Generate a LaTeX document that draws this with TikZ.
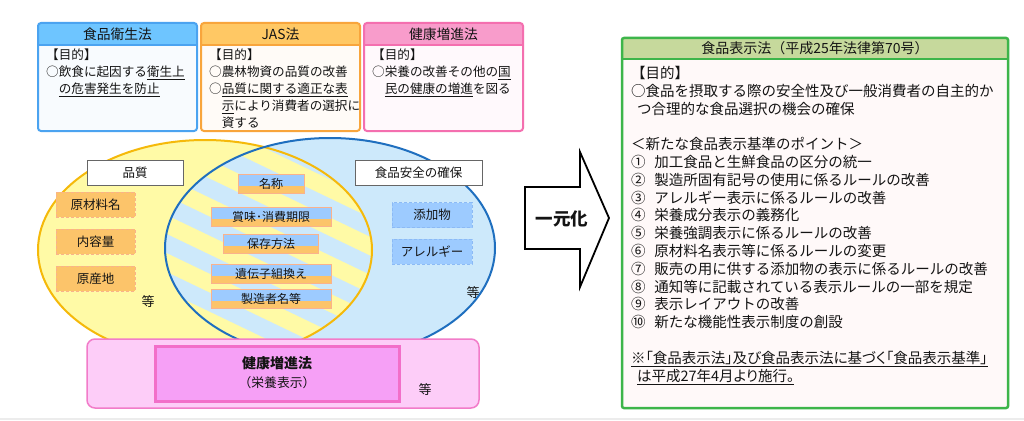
\documentclass[tikz,border=0pt]{standalone}
\usepackage{fontspec}
\setmainfont{Noto Sans CJK JP}
\usepackage{tikz}
\usetikzlibrary{positioning}
\definecolor{eiseiborde}{RGB}{75,163,240}
\definecolor{eiseicab}{RGB}{110,197,255}
\definecolor{jasborde}{RGB}{248,165,60}
\definecolor{jascab}{RGB}{255,200,100}
\definecolor{kenkoborde}{RGB}{244,111,175}
\definecolor{kenkocab}{RGB}{248,156,203}
\definecolor{amarillo}{RGB}{255,250,166}
\definecolor{amarilloborde}{RGB}{245,185,10}
\definecolor{celeste}{RGB}{205,233,251}
\definecolor{azulborde}{RGB}{31,111,191}
\definecolor{naranja}{RGB}{252,196,106}
\definecolor{naranjaborde}{RGB}{250,178,140}
\definecolor{azulcaja}{RGB}{157,203,255}
\definecolor{azulcajaborde}{RGB}{140,186,245}
\definecolor{rosa}{RGB}{253,205,248}
\definecolor{rosaborde}{RGB}{242,124,201}
\definecolor{magenta}{RGB}{246,160,246}
\definecolor{magentaborde}{RGB}{242,111,201}
\definecolor{verde}{RGB}{61,181,74}
\definecolor{verdecab}{RGB}{198,217,156}
\definecolor{verdecuerpo}{RGB}{255,249,249}
\definecolor{tinta}{RGB}{20,20,20}

\begin{document}
\begin{tikzpicture}[x=1pt, y=-1pt, text=tinta,
    lawhead/.style={minimum width=159, minimum height=22, inner sep=0, font=\fontsize{13.8}{16}\selectfont},
    lawframe/.style={line width=2, rounded corners=3},
    lawtext/.style={anchor=north west, inner sep=0, align=left, font=\fontsize{12.6}{17}\selectfont},
    tag/.style={draw=gray!80!black, fill=white, line width=0.8, minimum height=25, inner sep=0, font=\fontsize{12.5}{14}\selectfont},
    itembox/.style={minimum width=79, minimum height=25, inner sep=0, line width=0.5, font=\fontsize{12.5}{14}\selectfont},
    duo/.style={fill=naranja, draw=naranjaborde, line width=0.6, minimum height=19, inner sep=0,
      font=\fontsize{12}{14}\selectfont,
      path picture={\fill[azulcaja] (path picture bounding box.north west) rectangle ([yshift=-2pt]path picture bounding box.east);}},
    etc/.style={inner sep=0, font=\fontsize{13}{14}\selectfont}]
  \useasboundingbox (0,0) rectangle (1024,420);
  \fill[white] (0,0) rectangle (1024,420);
  \fill[gray!15] (0,418) rectangle (1024,420);
  % cajas de las tres leyes
  \foreach \x/\bc/\hc/\t/\n in {38/eiseiborde/eiseicab/食品衛生法/eisei, 201/jasborde/jascab/JAS法/jas, 364/kenkoborde/kenkocab/健康増進法/kenko} {
    \fill[rounded corners=3, fill=\bc!4!white] (\x,23) rectangle ++(159,108);
    \node[lawhead, fill=\hc] (t\n) at (\x+79.5,34) {\t};
    \draw[\bc, line width=1.5] (\x,45) -- ++(159,0);
    \draw[lawframe, draw=\bc] (\x,23) rectangle ++(159,108);
  }
  \node[lawtext] (beisei) at (46,49) {【目的】\\○飲食に起因する\underline{衛生上}\\\hspace*{1em}\underline{の危害発生を防止}};
  \node[lawtext] (bjas) at (209,49) {【目的】\\○農林物資の品質の改善\\○\underline{品質に関する適正な表}\\\hspace*{1em}\underline{示}により消費者の選択に\\\hspace*{1em}資する};
  \node[lawtext] (bkenko) at (372,49) {【目的】\\○栄養の改善その他の\underline{国}\\\hspace*{1em}\underline{民の健康の増進}を図る};
  % diagrama de Venn
  \fill[amarillo] (205,250) ellipse [x radius=167, y radius=110];
  \fill[celeste] (330,248) ellipse [x radius=165, y radius=110];
  \begin{scope}
    \clip (205,250) ellipse [x radius=167, y radius=110];
    \clip (330,248) ellipse [x radius=165, y radius=110];
    \fill[amarillo] (150,130) rectangle (400,370);
    \foreach \k in {-5,...,6} {
      \fill[celeste] (150,{150+\k*38}) -- (150,{169+\k*38}) -- (400,{289+\k*38}) -- (400,{270+\k*38}) -- cycle;
    }
  \end{scope}
  \draw[amarilloborde, line width=2] (205,250) ellipse [x radius=167, y radius=110];
  \draw[azulborde, line width=2] (330,248) ellipse [x radius=165, y radius=110];
  \node[tag, minimum width=96] (calidad) at (135,172.5) {品質};
  \node[tag, minimum width=127] (seguridad) at (418.5,173) {食品安全の確保};
  \foreach \y/\t/\n in {204.5/原材料名/genzairyo, 241.5/内容量/naiyo, 278.5/原産地/gensanchi} {
    \node[itembox, fill=naranja, draw=naranjaborde, densely dashed] (\n) at (95.5,\y) {\t};
  }
  \foreach \y/\t/\n in {215/添加物/tenka, 251.5/アレルギー/alergia} {
    \node[itembox, minimum width=80, fill=azulcaja, draw=azulcajaborde, densely dashed] (\n) at (432,\y) {\t};
  }
  \foreach \y/\w/\t/\n in {184/66/名称/meisho, 217/120/賞味･消費期限/kigen, 244/95/保存方法/hozon, 273.5/120/遺伝子組換え/idenshi, 299/120/製造者名等/seizo} {
    \node[duo, minimum width=\w] (\n) at (271,\y) {\t};
  }
  \node[etc] (etc1) at (148,302) {等};
  \node[etc] (etc2) at (473,293) {等};
  % caja del 健康増進法
  \draw[rosaborde, fill=rosa, line width=1.5, rounded corners=8] (87,339) rectangle (479,408);
  \draw[magentaborde, fill=magenta, line width=3] (155,346) rectangle (399,401);
  \node[inner sep=0, font=\bfseries\fontsize{14}{16}\selectfont] (kenkoho) at (277,363) {健康増進法};
  \node[inner sep=0, font=\fontsize{12.8}{14}\selectfont] (eiyo) at (277,383) {（栄養表示）};
  \node[etc] (etc3) at (425,390) {等};
  % flecha
  \draw[line width=1.8, fill=white, line join=miter] (525,187) -- (580,187) -- (580,152) -- (609,218) -- (580,287) -- (580,249) -- (525,249) -- cycle;
  \node[inner sep=0, font=\bfseries\fontsize{17.5}{20}\selectfont] (ichigen) at (562,219) {一元化};
  % caja del 食品表示法
  \fill[verdecuerpo, rounded corners=2] (622,38) rectangle (1008,408);
  \node[inner sep=0, minimum width=386, minimum height=21, fill=verdecab, font=\fontsize{14}{16}\selectfont] (thyoji) at (815,48.5) {食品表示法（平成25年法律第70号）};
  \draw[verde, line width=1.5] (622,59) -- (1008,59);
  \draw[verde, line width=2.5, rounded corners=2] (622,38) rectangle (1008,408);
  \node[anchor=north west, inner sep=0, align=left, font=\fontsize{14.5}{17.8}\selectfont] (mokuteki) at (631,66) {【目的】\\○食品を摂取する際の安全性及び一般消費者の自主的か\\\hspace*{0.4em}つ合理的な食品選択の機会の確保\\[17.8pt]＜新たな食品表示基準のポイント＞};
  \foreach \m/\t [count=\i] in {①/加工食品と生鮮食品の区分の統一, ②/製造所固有記号の使用に係るルールの改善, ③/アレルギー表示に係るルールの改善, ④/栄養成分表示の義務化, ⑤/栄養強調表示に係るルールの改善, ⑥/原材料名表示等に係るルールの変更, ⑦/販売の用に供する添加物の表示に係るルールの改善, ⑧/通知等に記載されている表示ルールの一部を規定, ⑨/表示レイアウトの改善, ⑩/新たな機能性表示制度の創設} {
    \node[anchor=west, inner sep=0, font=\fontsize{14.5}{17.8}\selectfont] (punto\i) at (631,{162+(\i-1)*17.8}) {\m\hspace{0.6em}\t};
  }
  \node[anchor=north west, inner sep=0, align=left, font=\fontsize{14.5}{17.8}\selectfont\addfontfeatures{RawFeature=+palt}] (nota) at (631,351) {\underline{※「食品表示法」及び食品表示法に基づく「食品表示基準」}\\\hspace*{0.4em}\underline{は平成27年4月より施行。}};
\end{tikzpicture}
\end{document}
